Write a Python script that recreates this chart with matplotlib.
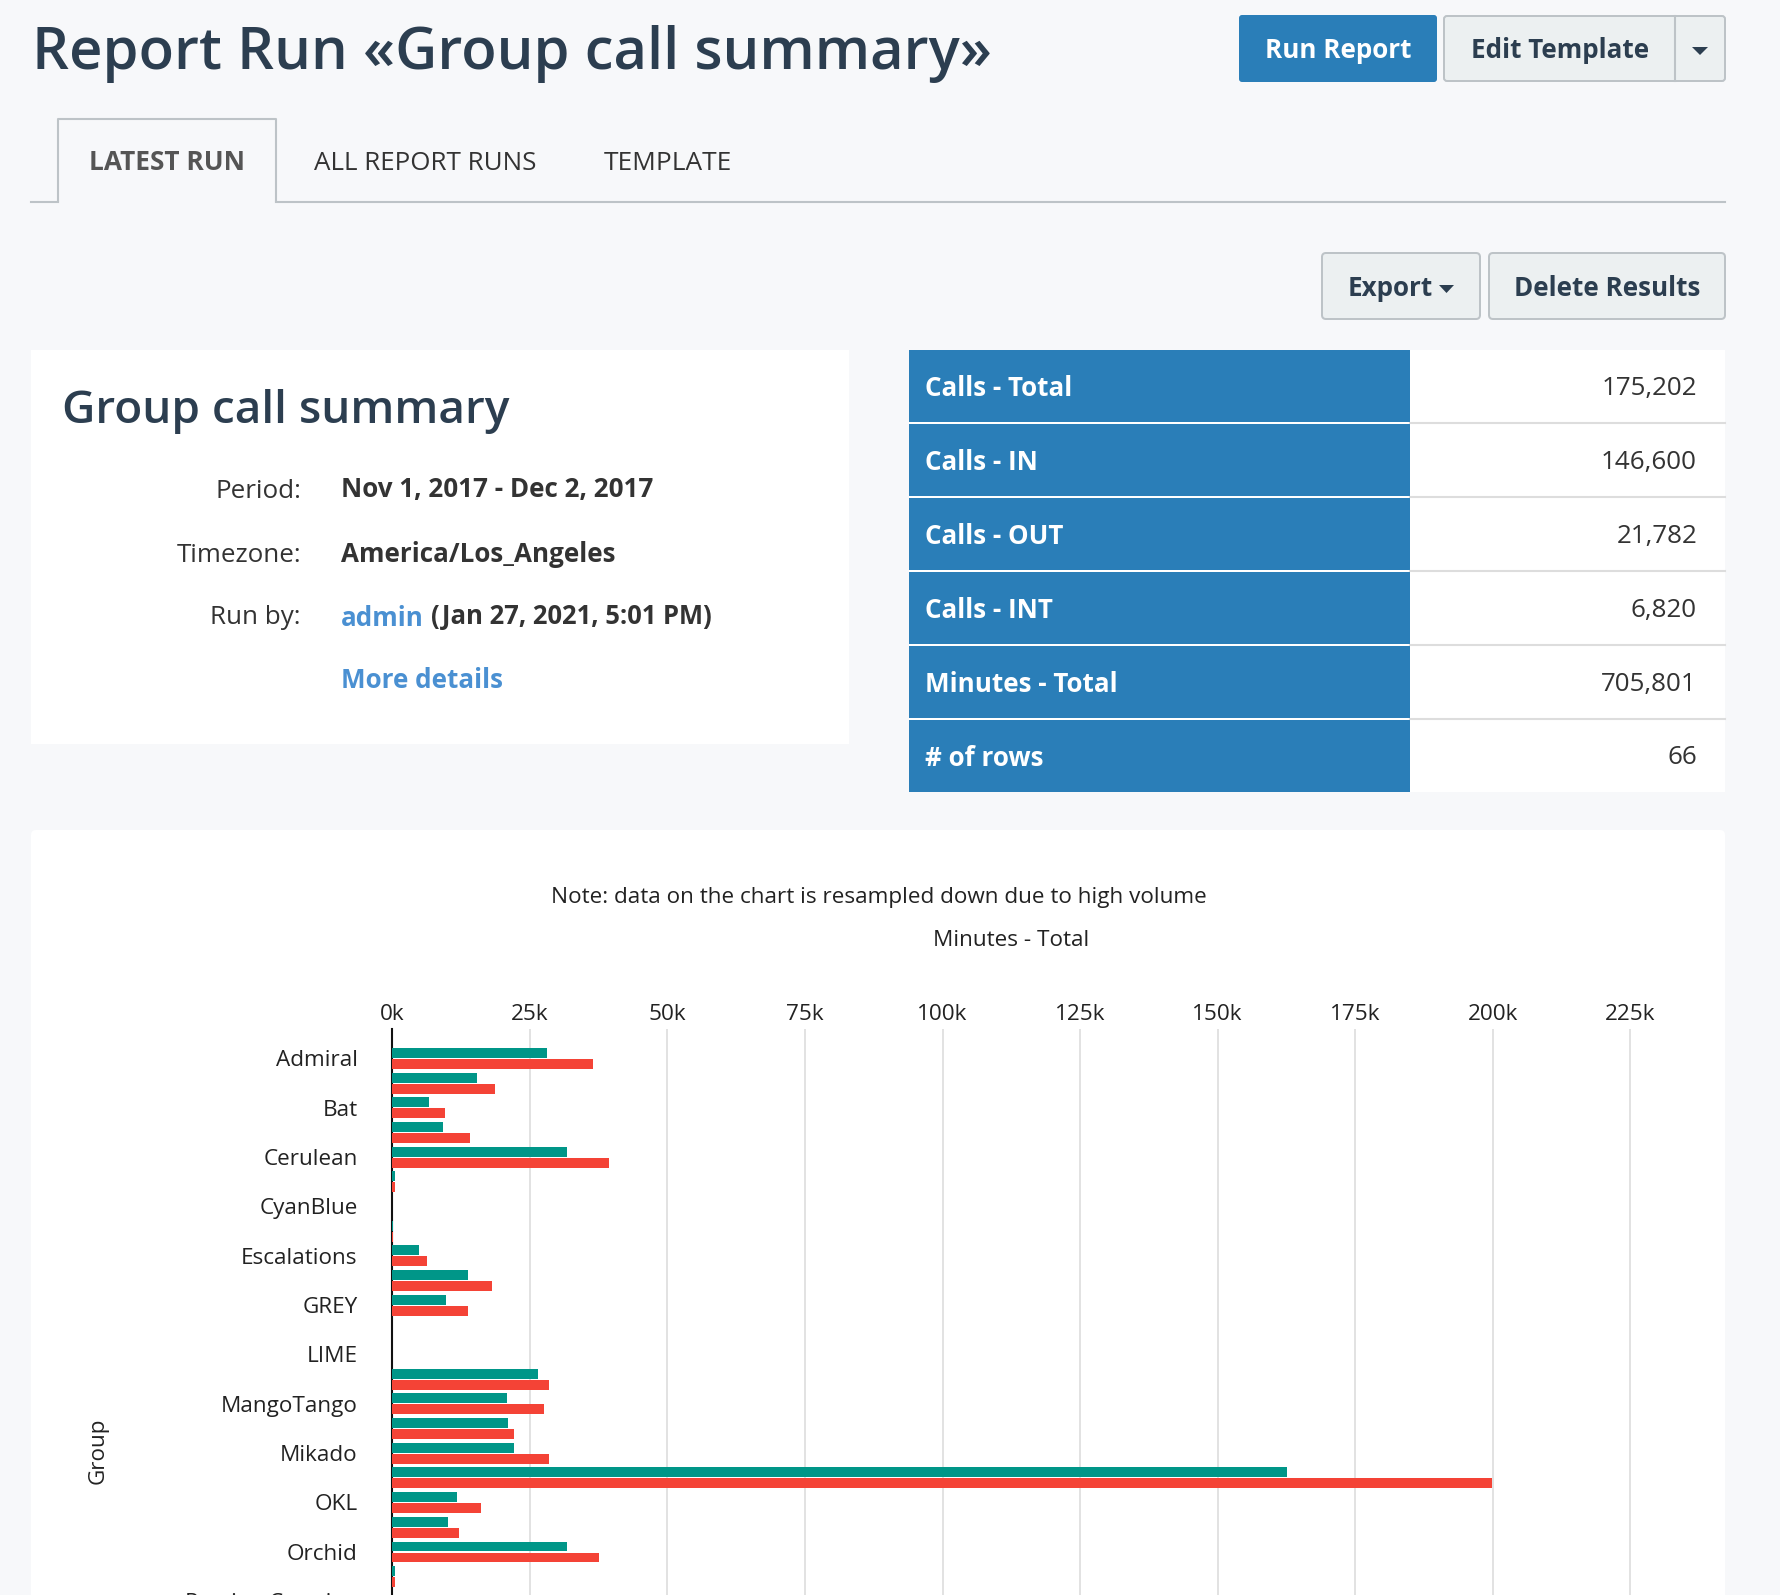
import matplotlib
matplotlib.use('Agg')
import matplotlib.pyplot as plt
from matplotlib.patches import FancyBboxPatch, Rectangle, Polygon

W, H = 1780, 1595
plt.rcParams['font.family'] = ['Open Sans', 'DejaVu Sans']

# chart data
groups = ['Admiral', '', 'Bat', '', 'Cerulean', '', 'CyanBlue', '', 'Escalations', '', 'GREY', '',
          'LIME', '', 'MangoTango', '', 'Mikado', '', 'OKL', '', 'Orchid', '', 'Persian Carmine']
minutes_a = [28.2, 15.4, 6.6, 9.3, 31.7, 0.4, 0, 0.1, 4.9, 13.7, 9.8, 0,
             0, 26.4, 20.8, 21.1, 22.2, 162.6, 11.8, 10.1, 31.8, 0.5, 0]
minutes_b = [36.5, 18.6, 9.5, 14.1, 39.3, 0.4, 0, 0.1, 6.3, 18.1, 13.8, 0,
             0, 28.4, 27.5, 22.1, 28.4, 199.8, 16.1, 12.1, 37.6, 0.5, 0]
x_ticks = [0, 25, 50, 75, 100, 125, 150, 175, 200, 225]

# summary table
summary_labels = ['Calls - Total', 'Calls - IN', 'Calls - OUT', 'Calls - INT', 'Minutes - Total', '# of rows']
summary_values = ['175,202', '146,600', '21,782', '6,820', '705,801', '66']

BG = '#f7f8fa'
BLUE = '#2a7eb8'
DARK = '#2c3e50'
TEXT = '#333333'
LINK = '#4a90d2'
BTN = '#ecf0f1'
EDGE = '#bdc3c7'

fig = plt.figure(figsize=(W / 100, H / 100), dpi=100, facecolor=BG)
page = fig.add_axes([0, 0, 1, 1])
page.set_xlim(0, W)
page.set_ylim(H, 0)
page.axis('off')


def px(size):
    return size * 0.72


def box(x0, y0, x1, y1, color, edge=None, radius=0, lw=2):
    if radius:
        p = FancyBboxPatch((x0, y0), x1 - x0, y1 - y0, boxstyle=f'round,pad=0,rounding_size={radius}',
                           fc=color, ec=edge or 'none', lw=lw * 0.72)
    else:
        p = Rectangle((x0, y0), x1 - x0, y1 - y0, fc=color, ec=edge or 'none', lw=lw * 0.72)
    page.add_patch(p)


def label(x, y, s, size, color=TEXT, weight='normal', ha='left'):
    page.text(x, y + 2, s, fontsize=px(size), color=color, fontweight=weight, ha=ha, va='center')


# header
label(32, 52, 'Report Run «Group call summary»', 58, DARK, 600)
box(1239, 15, 1437, 82, BLUE, radius=3)
label(1338, 48, 'Run Report', 26, 'white', 'bold', ha='center')
box(1444, 16, 1725, 81, BTN, EDGE, radius=3)
page.plot([1675, 1675], [16, 81], color=EDGE, lw=1.5)
label(1560, 48, 'Edit Template', 26, DARK, 'bold', ha='center')
page.add_patch(Polygon([[1692, 47], [1708, 47], [1700, 55]], fc=DARK))

# tabs
page.plot([31, 58], [201.5, 201.5], color=EDGE, lw=1.5)
page.plot([276, 1725], [201.5, 201.5], color=EDGE, lw=1.5)
page.plot([58, 58, 276, 276], [201, 119, 119, 201], color=EDGE, lw=1.5)
label(167, 161, 'LATEST RUN', 26.2, '#555555', 'bold', ha='center')
label(425, 161, 'ALL REPORT RUNS', 26, TEXT, ha='center')
label(667.5, 161, 'TEMPLATE', 26.2, TEXT, ha='center')

# export buttons
box(1322, 253, 1480, 319, BTN, EDGE, radius=4)
label(1390, 286, 'Export', 26, DARK, 'bold', ha='center')
page.add_patch(Polygon([[1439, 285], [1454, 285], [1446.5, 293]], fc=DARK))
box(1489, 253, 1725, 319, BTN, EDGE, radius=4)
label(1607, 286, 'Delete Results', 26, DARK, 'bold', ha='center')

# info card
box(31, 350, 849, 744, 'white')
label(62, 409, 'Group call summary', 46, DARK, 600)
label(301, 489, 'Period:', 26, TEXT, ha='right')
label(301, 553, 'Timezone:', 26, TEXT, ha='right')
label(301, 616, 'Run by:', 26, TEXT, ha='right')
label(341, 488, 'Nov 1, 2017 - Dec 2, 2017', 26, TEXT, 'bold')
label(341, 553, 'America/Los_Angeles', 26, TEXT, 'bold')
label(341, 616, 'admin', 26, LINK, 'bold')
label(431, 615, '(Jan 27, 2021, 5:01 PM)', 25.6, TEXT, 'bold')
label(341, 679, 'More details', 26, LINK, 'bold')

# summary table
box(909, 350, 1725, 792, 'white')
for i, (name, val) in enumerate(zip(summary_labels, summary_values)):
    y0 = 350 + i * 74
    box(909, y0, 1410, y0 + 72, BLUE)
    label(925, y0 + 36, name, 26, 'white', 'bold')
    label(1697, y0 + 36, val, 26, TEXT, ha='right')
    if i < 5:
        page.plot([1410, 1725], [y0 + 73, y0 + 73], color='#dddddd', lw=1.5)

# chart card
box(31, 830, 1725, H + 20, 'white', radius=5)
label(878.5, 895, 'Note: data on the chart is resampled down due to high volume', 22.5, '#222222', ha='center')
label(1011, 938, 'Minutes - Total', 22.5, '#222222', ha='center')
page.text(98.5, 1451, 'Group', fontsize=px(22.5), color='#222222', rotation=90, ha='center', va='center')

# bar chart, runs off the bottom of the page
ax_left, ax_right = 392.3, 1629 + 60
ax_top, ax_bottom = 1029, 1660
row = 24.67
first = 1058.3
ax = fig.add_axes([ax_left / W, 1 - ax_bottom / H, (ax_right - ax_left) / W, (ax_bottom - ax_top) / H])
ax.patch.set_alpha(0)
ax.set_xlim(0, (ax_right - ax_left) / 137.55 * 25)
ax.set_ylim((ax_bottom - first) / row, (ax_top - first) / row)
ys = list(range(len(groups)))
h = 9.8 / row
ax.barh([y - 5.3 / row for y in ys], minutes_a, height=h, color='#009688', zorder=3)
ax.barh([y + 5.7 / row for y in ys], minutes_b, height=h, color='#f44336', zorder=3)
for side in ['top', 'right', 'bottom']:
    ax.spines[side].set_visible(False)
ax.spines['left'].set_color('#111111')
ax.spines['left'].set_linewidth(1.5)
ax.spines['left'].set_zorder(2)
ax.xaxis.tick_top()
ax.set_xticks(x_ticks)
ax.set_xticklabels([f'{t}k' for t in x_ticks], fontsize=px(22.5), color='#222222')
ax.set_yticks(ys)
ax.set_yticklabels(groups, fontsize=px(22.5), color='#222222')
ax.tick_params(axis='both', length=0)
ax.tick_params(axis='y', pad=25)
ax.tick_params(axis='x', pad=3)
ax.grid(axis='x', color='#dddddd', lw=1.2, zorder=0)

fig.savefig('out.png', dpi=100, facecolor=BG)
